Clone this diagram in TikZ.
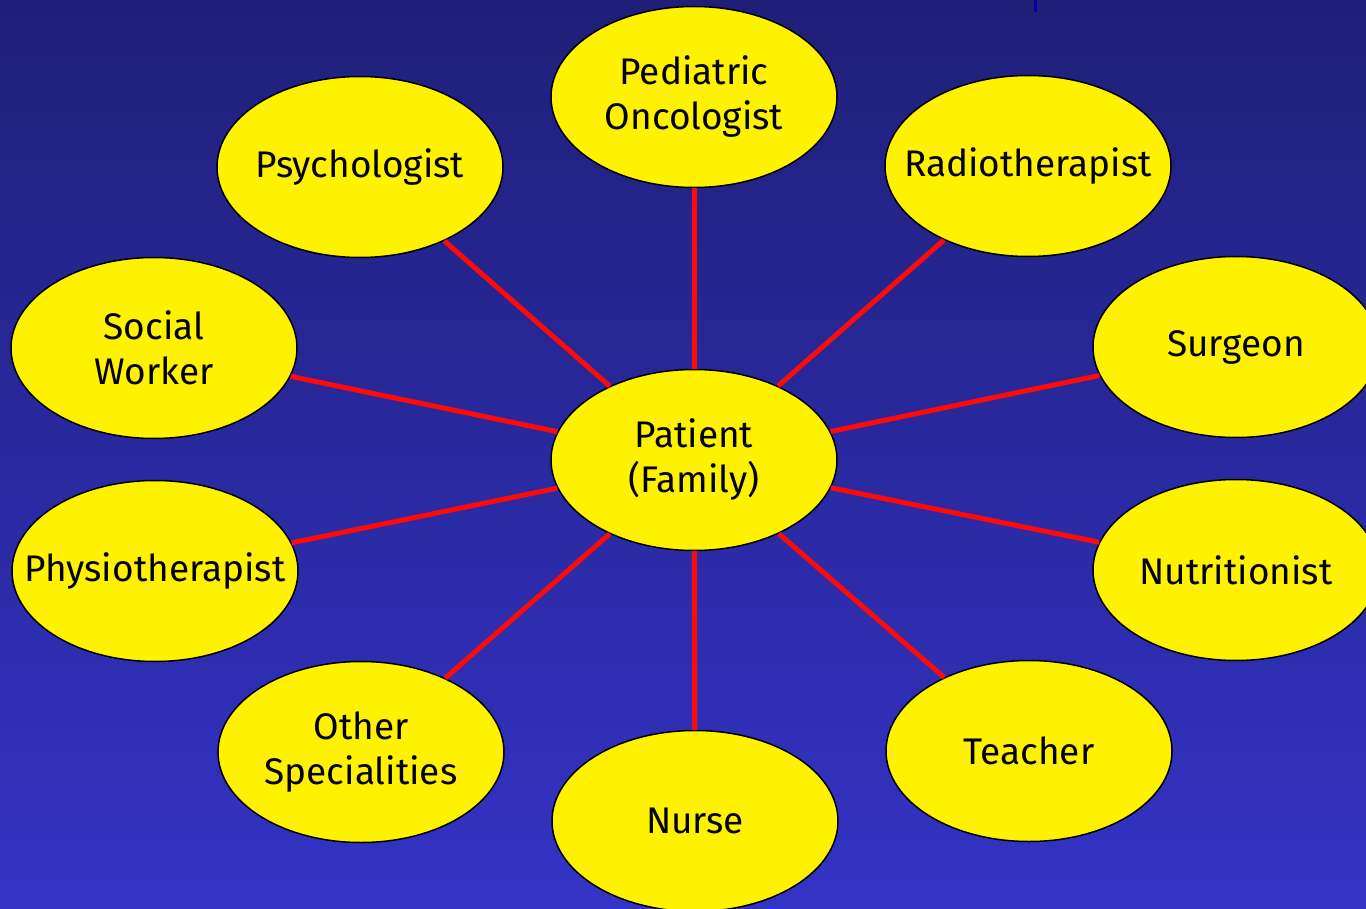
\documentclass[tikz,border=0pt]{standalone}
\usepackage{fontspec}
\setmainfont{Fira Sans}
\usetikzlibrary{shapes.geometric}
\definecolor{bgtop}{HTML}{1F1F78}
\definecolor{bgbot}{HTML}{3333C6}
\definecolor{linkred}{HTML}{FF0A0A}
\definecolor{markblue}{HTML}{0000A0}
\tikzset{
  bubble/.style={ellipse, draw=black, line width=1.5pt, fill=yellow,
    minimum width=286pt, minimum height=181pt, inner sep=0pt,
    label={[align=center, font=\fontsize{37}{45}\selectfont, text=black]center:#1}},
  link/.style={draw=linkred, line width=5pt}
}
\begin{document}
\begin{tikzpicture}[x=1pt,y=-1pt]
\useasboundingbox (0,0) rectangle (1366,909);
\clip (0,0) rectangle (1366,909);
\shade[top color=bgtop, bottom color=bgbot] (0,0) rectangle (1366,909);
\coordinate (m1) at (1035,0);
\coordinate (m2) at (1035,12);
\draw[markblue, line width=3pt] (m1) -- (m2);
\node[bubble={Patient\\(Family)}] (pat) at (694,460) {};
\node[bubble={Pediatric\\Oncologist}] (ped) at (694,97) {};
\node[bubble={Psychologist}] (psy) at (360,167) {};
\node[bubble={Radiotherapist}] (rad) at (1028,166) {};
\node[bubble={Social\\Worker}] (soc) at (154,348) {};
\node[bubble={Surgeon}] (sur) at (1236,347) {};
\node[bubble={Physiotherapist}] (phy) at (155,571) {};
\node[bubble={Nutritionist}] (nut) at (1236,570) {};
\node[bubble={Other\\Specialities}] (oth) at (361,752) {};
\node[bubble={Teacher}] (tea) at (1029,751) {};
\node[bubble={Nurse}] (nur) at (695,821) {};
\foreach \n in {ped,psy,rad,soc,sur,phy,nut,oth,tea,nur}
  \path[link] (pat) -- (\n);
\end{tikzpicture}
\end{document}
